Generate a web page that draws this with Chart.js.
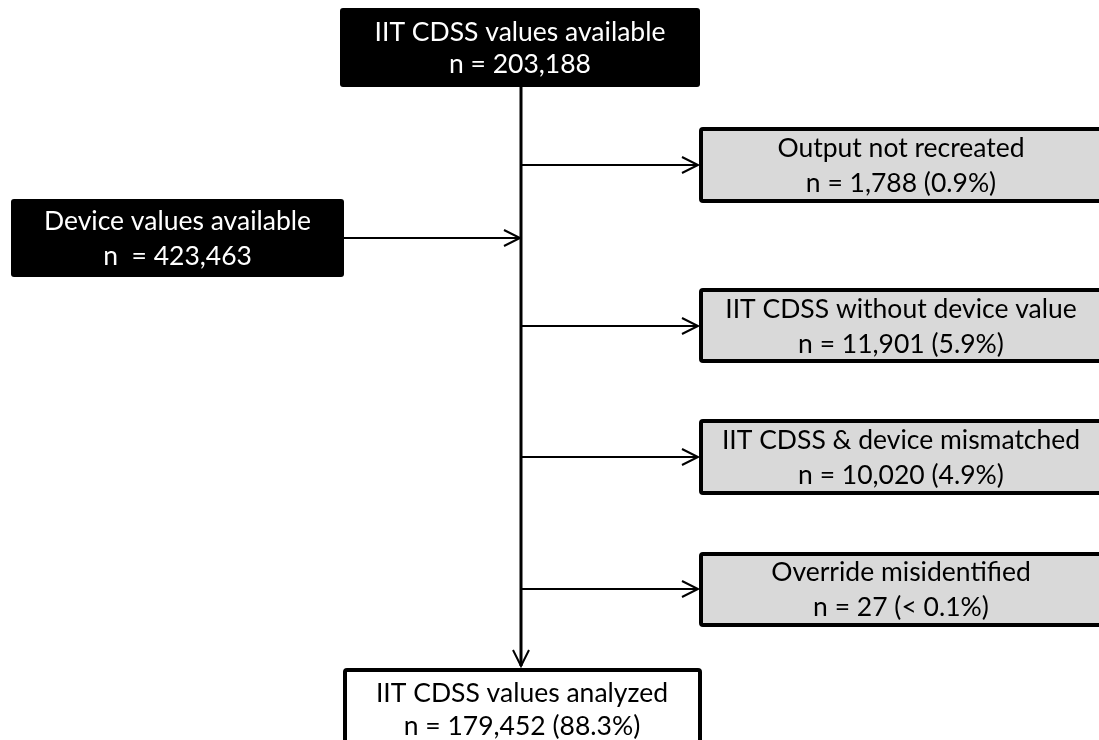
<!DOCTYPE html>
<html>
<head>
<meta charset="utf-8">
<script src="https://cdn.jsdelivr.net/npm/chart.js@4.4.1/dist/chart.umd.min.js"></script>
<style>
  html, body { margin: 0; padding: 0; background: #ffffff; }
  #wrap { width: 1099px; height: 740px; }
</style>
</head>
<body>
<div id="wrap"><canvas id="myChart" width="1099" height="740"></canvas></div>
<script>
// flow chart values
const boxTitles = [
  'IIT CDSS values available',
  'Device values available',
  'Output not recreated',
  'IIT CDSS without device value',
  'IIT CDSS & device mismatched',
  'Override misidentified',
  'IIT CDSS values analyzed',
];
const boxCounts = [
  'n = 203,188',
  'n  = 423,463',
  'n = 1,788 (0.9%)',
  'n = 11,901 (5.9%)',
  'n = 10,020 (4.9%)',
  'n = 27 (< 0.1%)',
  'n = 179,452 (88.3%)',
];

// layout in page units (x: 0..1099, y: 0..740 top-down)
const layout = [
  { x0: 340, y0: 8, x1: 700, y1: 87, kind: 'dark', cy: 47, gap: 32 },
  { x0: 11, y0: 199, x1: 344, y1: 277, kind: 'dark', cy: 238, gap: 35 },
  { x0: 699, y0: 127, x1: 1110, y1: 203, kind: 'grey', cy: 165, gap: 35 },
  { x0: 699, y0: 288, x1: 1110, y1: 363, kind: 'grey', cy: 326, gap: 35 },
  { x0: 699, y0: 419, x1: 1110, y1: 495, kind: 'grey', cy: 457, gap: 35 },
  { x0: 699, y0: 552, x1: 1110, y1: 627, kind: 'grey', cy: 589, gap: 35 },
  { x0: 343, y0: 668, x1: 702, y1: 790, kind: 'white', cy: 709, gap: 33 },
];
const spineX = 521;
const branchY = [165, 326, 457, 589];
const fontPx = 26.5;

function roundRect(ctx, x, y, w, h, r) {
  ctx.beginPath();
  ctx.moveTo(x + r, y);
  ctx.lineTo(x + w - r, y);
  ctx.quadraticCurveTo(x + w, y, x + w, y + r);
  ctx.lineTo(x + w, y + h - r);
  ctx.quadraticCurveTo(x + w, y + h, x + w - r, y + h);
  ctx.lineTo(x + r, y + h);
  ctx.quadraticCurveTo(x, y + h, x, y + h - r);
  ctx.lineTo(x, y + r);
  ctx.quadraticCurveTo(x, y, x + r, y);
  ctx.closePath();
}

const flowPlugin = {
  id: 'flow',
  afterDraw(chart) {
    const ctx = chart.ctx;
    const xs = chart.scales.x;
    const ys = chart.scales.y;
    const px = (v) => xs.getPixelForValue(v);
    const py = (v) => ys.getPixelForValue(v);
    ctx.save();
    ctx.strokeStyle = '#000000';
    ctx.lineCap = 'butt';

    // main spine
    ctx.lineWidth = 3;
    ctx.beginPath();
    ctx.moveTo(px(spineX), py(87));
    ctx.lineTo(px(spineX), py(666));
    ctx.stroke();

    // arrow heads (open chevrons)
    function chevronRight(tipX, y) {
      ctx.lineWidth = 2;
      ctx.beginPath();
      ctx.moveTo(px(tipX - 16), py(y - 8));
      ctx.lineTo(px(tipX), py(y));
      ctx.lineTo(px(tipX - 16), py(y + 8));
      ctx.stroke();
    }
    function hLine(xa, xb, y) {
      ctx.lineWidth = 2;
      ctx.beginPath();
      ctx.moveTo(px(xa), py(y));
      ctx.lineTo(px(xb), py(y));
      ctx.stroke();
    }

    branchY.forEach((y) => {
      hLine(spineX, 698, y);
      chevronRight(698, y);
    });
    hLine(344, 520, 238);
    chevronRight(520, 238);

    // down arrow
    ctx.lineWidth = 2;
    ctx.beginPath();
    ctx.moveTo(px(spineX - 8), py(650));
    ctx.lineTo(px(spineX), py(666));
    ctx.lineTo(px(spineX + 8), py(650));
    ctx.stroke();

    // boxes
    layout.forEach((b, i) => {
      const x = px(b.x0), y = py(b.y0);
      const w = px(b.x1) - x, h = py(b.y1) - y;
      if (b.kind === 'dark') {
        roundRect(ctx, x, y, w, h, 3);
        ctx.fillStyle = '#000000';
        ctx.fill();
      } else {
        roundRect(ctx, x + 2, y + 2, w - 4, h - 4, 2);
        ctx.fillStyle = b.kind === 'grey' ? '#d9d9d9' : '#ffffff';
        ctx.fill();
        ctx.lineWidth = 4;
        ctx.stroke();
      }
      const cx = b.kind === 'grey' ? 901 : (b.x0 + b.x1) / 2;
      const textX = b.kind === 'white' ? 522 : cx;
      const half = fontPx * 0.36;
      ctx.fillStyle = b.kind === 'dark' ? '#ffffff' : '#000000';
      ctx.font = fontPx + 'px Lato';
      ctx.textAlign = 'center';
      ctx.textBaseline = 'alphabetic';
      ctx.fillText(boxTitles[i], px(textX), py(b.cy - b.gap / 2 + half));
      ctx.fillText(boxCounts[i], px(textX), py(b.cy + b.gap / 2 + half));
    });
    ctx.restore();
  },
};

const chartConfig = {
  type: 'scatter',
  data: { datasets: [{ data: [] }] },
  options: {
    responsive: false,
    animation: false,
    events: [],
    layout: { padding: 0 },
    plugins: { legend: { display: false }, tooltip: { enabled: false } },
    scales: {
      x: { type: 'linear', min: 0, max: 1099, display: false },
      y: { type: 'linear', min: 0, max: 740, reverse: true, display: false },
    },
  },
  plugins: [flowPlugin],
};

const myChart = new Chart(document.getElementById('myChart'), chartConfig);
</script>
</body>
</html>
